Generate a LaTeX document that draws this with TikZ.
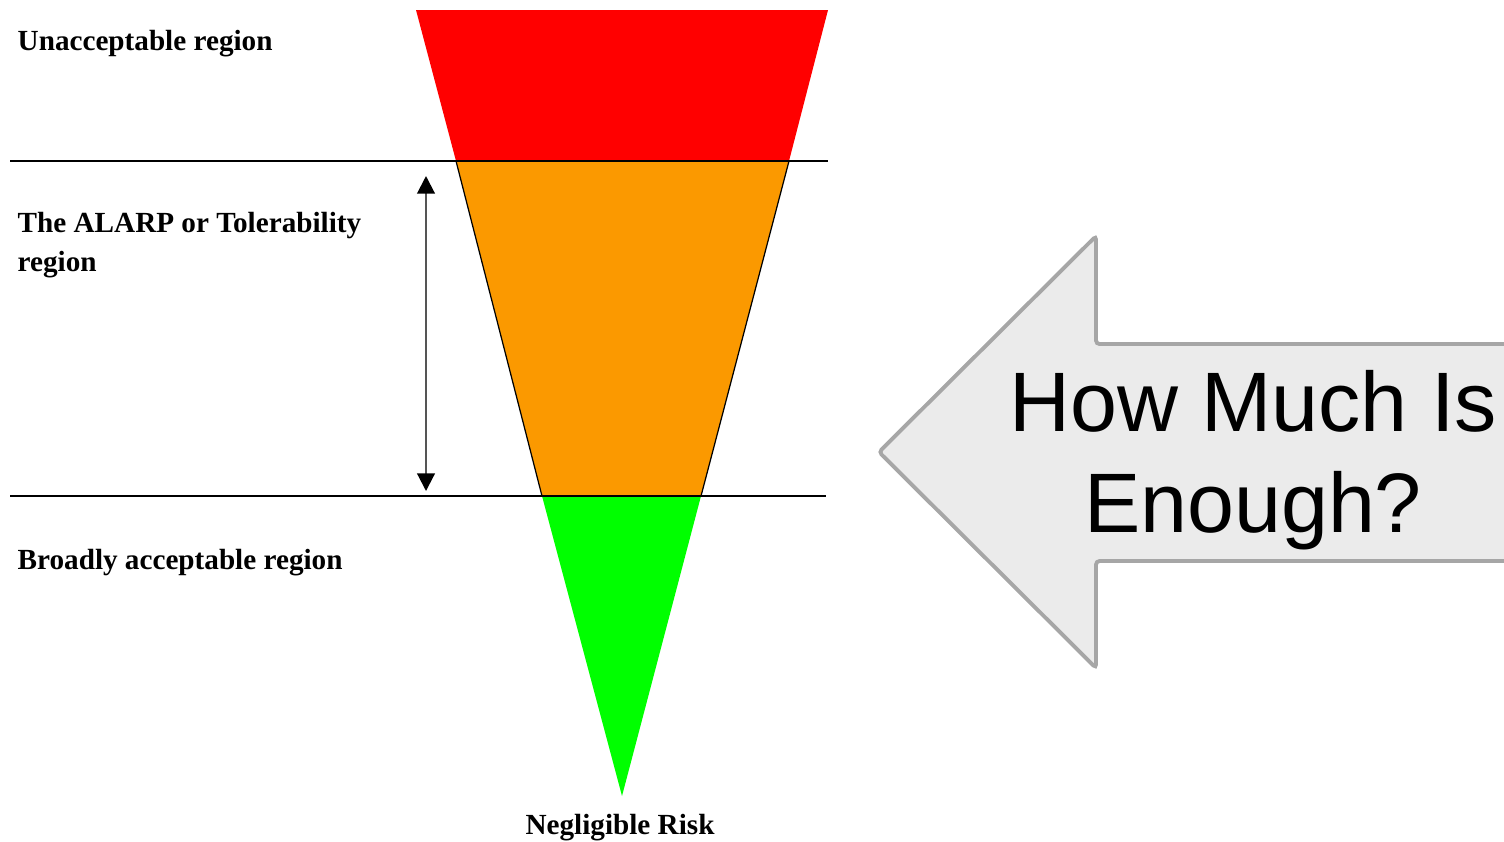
\documentclass[tikz,border=0pt]{standalone}
\usepackage{fontspec}
\setmainfont{Liberation Serif}
\newfontfamily\arialfont{Liberation Sans}
\usepackage{tikz}
\usetikzlibrary{positioning, arrows.meta}
\definecolor{zoneRed}{HTML}{FF0000}
\definecolor{zoneOrange}{HTML}{FB9900}
\definecolor{zoneGreen}{HTML}{00FF00}
\definecolor{arrFill}{HTML}{EBEBEB}
\definecolor{arrLine}{HTML}{A6A6A6}
\definecolor{shaft}{HTML}{555555}

\begin{document}
\begin{tikzpicture}[x=0.01cm, y=-0.01cm, lbl/.style={font=\fontsize{8.3}{11}\selectfont\bfseries, anchor=west, align=left, inner sep=0pt}, sep/.style={draw=black, line width=0.45pt}]
\useasboundingbox (0,0) rectangle (1504,841);
\clip (0,0) rectangle (1504,841);
% funnel corners
\coordinate (tl) at (416,10); \coordinate (tr) at (828,10);
\coordinate (ml) at (456,161); \coordinate (mr) at (789,161);
\coordinate (bl) at (542,496); \coordinate (br) at (701,496);
\coordinate (tip) at (622,796);
\fill[zoneRed] (tl) -- (tr) -- (mr) -- (ml) -- cycle;
\fill[zoneOrange] (ml) -- (mr) -- (br) -- (bl) -- cycle;
\draw[line width=0.35pt] (ml) -- (bl) (mr) -- (br);
\fill[zoneGreen] (bl) -- (br) -- (tip) -- cycle;
% separators
\coordinate (s1a) at (10,161); \coordinate (s1b) at (828,161);
\coordinate (s2a) at (10,496); \coordinate (s2b) at (826,496);
\draw[sep] (s1a) -- (s1b); \draw[sep] (s2a) -- (s2b);
% range arrow
\coordinate (up) at (426,176); \coordinate (dn) at (426,491);
\draw[shaft, line width=0.6pt, {Triangle[length=5pt,width=5pt,fill=black,color=black]}-{Triangle[length=5pt,width=5pt,fill=black,color=black]}] (up) -- (dn);
% labels
\node[lbl] (unacc) at (17,44) {Unacceptable region};
\node[lbl] (alarp) at (17,245) {The ALARP or Tolerability\\region};
\node[lbl] (broad) at (17,563) {Broadly acceptable region};
\node[lbl, anchor=center] (negl) at (620,828) {Negligible Risk};
% big arrow
\draw[fill=arrFill, draw=arrLine, line width=1.1pt, rounded corners=1pt] (879,452) -- (1096,236) -- (1096,344) -- (1530,344) -- (1530,561) -- (1096,561) -- (1096,668) -- cycle;
\node[font=\arialfont\fontsize{24}{28.8}\selectfont, align=center] (howmuch) at (1253,460) {How Much Is\\Enough?};
\end{tikzpicture}
\end{document}
